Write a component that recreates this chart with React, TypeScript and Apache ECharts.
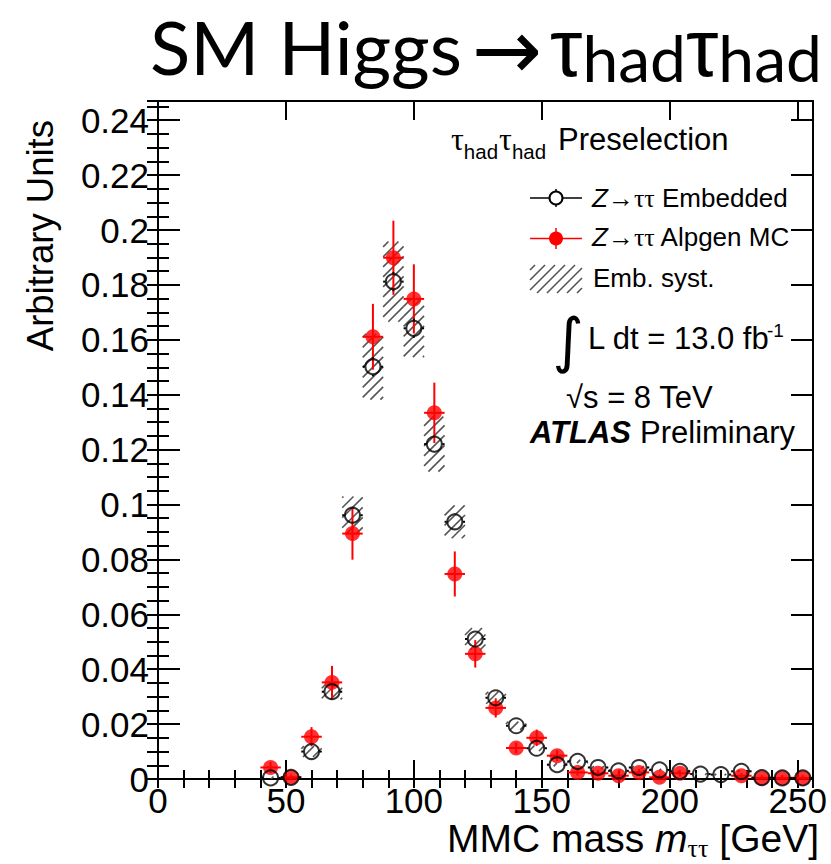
import React, { useEffect, useRef } from "react";
import * as echarts from "echarts";

// ---- data ----
const binCenters = [44, 52, 60, 68, 76, 84, 92, 100, 108, 116, 124, 132, 140, 148, 156, 164, 172, 180, 188, 196, 204, 212, 220, 228, 236, 244, 252];
const embeddedValues = [0.0004, 0.0006, 0.0100, 0.0318, 0.0961, 0.1502, 0.1812, 0.1642, 0.1220, 0.0937, 0.0510, 0.0296, 0.0194, 0.0112, 0.0052, 0.0064, 0.0042, 0.0030, 0.0042, 0.0033, 0.0028, 0.0018, 0.0016, 0.0028, 0.0005, 0.0004, 0.0004];
const embeddedStatErr = [0.0005, 0.0005, 0.0015, 0.002, 0.003, 0.0035, 0.0035, 0.0035, 0.003, 0.003, 0.002, 0.0018, 0.0015, 0.0012, 0.0008, 0.0008, 0.0007, 0.0006, 0.0007, 0.0006, 0.0006, 0.0005, 0.0005, 0.0006, 0.0004, 0.0004, 0.0004];
const embeddedSystErr = [0.0005, 0.0005, 0.002, 0.0028, 0.0068, 0.012, 0.0146, 0.0105, 0.010, 0.006, 0.004, 0.0022, 0.0015, 0.001, 0.0006, 0.0006, 0.0005, 0.0004, 0.0005, 0.0004, 0.0004, 0.0003, 0.0003, 0.0004, 0.0002, 0.0002, 0.0002];
const alpgenValues: (number | null)[] = [0.0042, 0.0006, 0.0154, 0.0352, 0.0894, 0.1611, 0.1899, 0.1749, 0.1334, 0.0747, 0.0456, 0.0259, 0.0113, 0.0150, 0.0085, 0.0024, 0.0021, 0.0012, 0.0024, 0.0006, 0.0021, null, null, 0.0012, 0.0004, 0.0004, 0.0004];
const alpgenErr: (number | null)[] = [0.002, 0.001, 0.0035, 0.006, 0.0095, 0.012, 0.0135, 0.0126, 0.011, 0.0082, 0.005, 0.0035, 0.002, 0.003, 0.002, 0.0012, 0.0012, 0.001, 0.0012, 0.001, 0.0012, null, null, 0.001, 0.001, 0.001, 0.001];
const binHalfWidth = 4;
const xRange = [0, 256];
const yRange = [0, 0.247];
const xMajorStep = 50;
const xMinorStep = 10;
const yMajorStep = 0.02;
const yMinorStep = 0.005;

const SANS = "Liberation Sans";
const SERIF = "Liberation Serif";
const DEJAVU = "DejaVu Sans";
const LATO = "Lato";
const CENTRAL: Record<string, number> = { [SANS]: 0.3465, [SERIF]: 0.3375, [DEJAVU]: 0.346, [LATO]: 0.387 };

let measureCtx: CanvasRenderingContext2D | null = null;
function textWidth(text: string, size: number, family: string, style = "normal", weight = "normal") {
  if (!measureCtx) measureCtx = document.createElement("canvas").getContext("2d");
  measureCtx!.font = `${style} ${weight} ${size}px "${family}"`;
  return measureCtx!.measureText(text).width;
}

type Piece = { text: string; size: number; family: string; style?: string; weight?: string; dy?: number; gap?: number };

function textEl(x: number, baseline: number, p: Piece, align: "left" | "center" | "right" = "left") {
  return {
    type: "text",
    x,
    y: baseline + (p.dy || 0) - (CENTRAL[p.family] ?? 0.35) * p.size,
    silent: true,
    style: {
      text: p.text,
      fontSize: p.size,
      fontFamily: p.family,
      fontStyle: p.style || "normal",
      fontWeight: p.weight || "normal",
      fill: "#000",
      align,
      verticalAlign: "middle",
    },
  };
}

function run(x: number, baseline: number, pieces: Piece[], anchor: "left" | "right" = "left") {
  const widths = pieces.map((p) => textWidth(p.text, p.size, p.family, p.style, p.weight));
  const total = widths.reduce((a, b, i) => a + b + (pieces[i].gap || 0), 0);
  let cx = anchor === "left" ? x : x - total;
  return pieces.map((p, i) => {
    cx += p.gap || 0;
    const el = textEl(cx, baseline, p);
    cx += widths[i];
    return el;
  });
}

function hatchLines(x0: number, y0: number, x1: number, y1: number, step = 10, stroke = "#555", lw = 1.6) {
  const out: any[] = [];
  const cmin = Math.ceil((x0 + y0) / step) * step;
  for (let c = cmin; c <= x1 + y1; c += step) {
    const xa = Math.max(x0, c - y1);
    const xb = Math.min(x1, c - y0);
    if (xb - xa > 0.5) {
      out.push({ type: "line", shape: { x1: xa, y1: c - xa, x2: xb, y2: c - xb }, style: { stroke, lineWidth: lw } });
    }
  }
  return out;
}

function errorBarRenderer(color: string, width: number, gap: number) {
  return (params: any, api: any) => {
    const x = api.value(0);
    const y = api.value(1);
    const e = api.value(2);
    const c = api.coord([x, y]);
    const yt = api.coord([x, y + e])[1];
    const yb = api.coord([x, y - e])[1];
    const xl = api.coord([x - binHalfWidth, y])[0];
    const xr = api.coord([x + binHalfWidth, y])[0];
    const segs: number[][] = [];
    if (c[1] - gap > yt) segs.push([c[0], yt, c[0], c[1] - gap]);
    if (yb > c[1] + gap) segs.push([c[0], c[1] + gap, c[0], yb]);
    if (c[0] - gap > xl) segs.push([xl, c[1], c[0] - gap, c[1]]);
    if (xr > c[0] + gap) segs.push([c[0] + gap, c[1], xr, c[1]]);
    return {
      type: "group",
      children: segs.map((s) => ({
        type: "line",
        shape: { x1: s[0], y1: s[1], x2: s[2], y2: s[3] },
        style: { stroke: color, lineWidth: width },
      })),
    };
  };
}

export default function App() {
  const ref = useRef<HTMLDivElement>(null);

  useEffect(() => {
    const chart = echarts.init(ref.current!, null, { renderer: "svg" });

    const hatchData = binCenters.map((x, i) => [x, embeddedValues[i], embeddedSystErr[i]]);
    const embErrData = binCenters.map((x, i) => [x, embeddedValues[i], embeddedStatErr[i]]);
    const embPoints = binCenters.map((x, i) => [x, embeddedValues[i]]);
    const mcIdx = binCenters.map((_, i) => i).filter((i) => alpgenValues[i] != null);
    const mcErrData = mcIdx.map((i) => [binCenters[i], alpgenValues[i], alpgenErr[i]]);
    const mcPoints = mcIdx.map((i) => [binCenters[i], alpgenValues[i]]);

    const axisLineStyle = { color: "#000", width: 2 };
    const tickLineStyle = { color: "#000", width: 2 };
    const hidden = { show: false };

    const xAxisBase = { type: "value", min: xRange[0], max: xRange[1], splitLine: hidden, axisLabel: hidden, axisLine: hidden, axisTick: hidden };
    const yAxisBase = { type: "value", min: yRange[0], max: yRange[1], splitLine: hidden, axisLabel: hidden, axisLine: hidden, axisTick: hidden };

    // ---- title ----
    const titleSize = 80 * 312 / textWidth("SM Higgs", 80, LATO);
    const tauSize = 82;
    const tauW = textWidth("τ", tauSize, SANS);
    const hadTarget = (822 - 550 - 2 * tauW) / 2;
    const hadSize = 56 * hadTarget / textWidth("had", 56, LATO);

    const graphics: any[] = [
      textEl(150, 75, { text: "SM Higgs", size: titleSize, family: LATO }),
      textEl(507, 50 + CENTRAL[DEJAVU] * 84, { text: "→", size: 84, family: DEJAVU }, "center"),
      ...run(550, 76, [
        { text: "τ", size: tauSize, family: SANS },
        { text: "had", size: hadSize, family: LATO, dy: 6 },
        { text: "τ", size: tauSize, family: SANS },
        { text: "had", size: hadSize, family: LATO, dy: 6 },
      ]),

      // axis titles
      {
        type: "text",
        x: 40,
        y: 120,
        rotation: Math.PI / 2,
        silent: true,
        style: { text: "Arbitrary Units", fontSize: 36.5, fontFamily: SANS, fill: "#000", align: "right", verticalAlign: "middle" },
      },
      ...run(819, 852, [
        { text: "MMC mass ", size: 39, family: SANS },
        { text: "m", size: 39, family: SANS, style: "italic" },
        { text: "ττ", size: 26, family: SERIF, dy: 5 },
        { text: " [GeV]", size: 39, family: SANS },
      ], "right"),

      // header
      ...run(451, 150, [
        { text: "τ", size: 32, family: SERIF },
        { text: "had", size: 20.5, family: SANS, dy: 9 },
        { text: "τ", size: 32, family: SERIF, gap: 1 },
        { text: "had", size: 20.5, family: SANS, dy: 9 },
      ]),
      textEl(558, 150, { text: "Preselection", size: 31, family: SANS }),

      // legend entries
      ...run(592, 207, [
        { text: "Z", size: 26, family: SANS, style: "italic" },
        { text: "→", size: 26, family: SANS },
        { text: "ττ", size: 26, family: SERIF },
        { text: " Embedded", size: 26, family: SANS },
      ]),
      ...run(592, 246, [
        { text: "Z", size: 26, family: SANS, style: "italic" },
        { text: "→", size: 26, family: SANS },
        { text: "ττ", size: 26, family: SERIF },
        { text: " Alpgen MC", size: 26, family: SANS },
      ]),
      textEl(593, 287, { text: "Emb. syst.", size: 26, family: SANS }),

      // markers in legend
      { type: "line", shape: { x1: 530, y1: 198, x2: 549.5, y2: 198 }, style: { stroke: "#000", lineWidth: 1.5 } },
      { type: "line", shape: { x1: 562.5, y1: 198, x2: 582, y2: 198 }, style: { stroke: "#000", lineWidth: 1.5 } },
      { type: "line", shape: { x1: 556, y1: 189, x2: 556, y2: 191.5 }, style: { stroke: "#000", lineWidth: 1.5 } },
      { type: "line", shape: { x1: 556, y1: 204.5, x2: 556, y2: 207 }, style: { stroke: "#000", lineWidth: 1.5 } },
      { type: "circle", shape: { cx: 556, cy: 198, r: 6.5 }, style: { fill: "none", stroke: "#000", lineWidth: 2 } },
      { type: "line", shape: { x1: 530, y1: 238.5, x2: 582, y2: 238.5 }, style: { stroke: "#ff0000", lineWidth: 1.5 } },
      { type: "line", shape: { x1: 556, y1: 228, x2: 556, y2: 249 }, style: { stroke: "#ff0000", lineWidth: 1.5 } },
      { type: "circle", shape: { cx: 556, cy: 238.5, r: 7 }, style: { fill: "#ff0000" } },
      ...hatchLines(530, 265, 582, 293),

      // luminosity etc.
      textEl(568, 340 + CENTRAL[DEJAVU] * 60, { text: "∫", size: 60, family: DEJAVU }, "center"),
      textEl(588, 349, { text: "L dt = 13.0 fb", size: 31, family: SANS }),
      textEl(767, 337, { text: "-1", size: 19, family: SANS }),
      textEl(566, 408, { text: "√s = 8 TeV", size: 31, family: SANS }),
      textEl(530, 443, { text: "ATLAS", size: 31, family: SANS, style: "italic", weight: "bold" }),
      textEl(640, 443, { text: "Preliminary", size: 31, family: SANS }),
    ];

    const option: any = {
      animation: false,
      backgroundColor: "#fff",
      grid: { left: 158, right: 18, top: 101, bottom: 85, containLabel: false },
      xAxis: [
        {
          ...xAxisBase,
          position: "bottom",
          interval: xMajorStep,
          axisLine: { show: true, onZero: false, lineStyle: axisLineStyle },
          axisTick: { show: true, inside: true, length: 19, lineStyle: tickLineStyle },
          axisLabel: { show: true, fontSize: 35, fontFamily: SANS, color: "#000", margin: 4, showMaxLabel: false },
        },
        { ...xAxisBase, position: "bottom", interval: xMinorStep, axisTick: { show: true, inside: true, length: 9, lineStyle: tickLineStyle } },
        {
          ...xAxisBase,
          position: "top",
          interval: xMajorStep,
          axisLine: { show: true, onZero: false, lineStyle: axisLineStyle },
          axisTick: { show: true, inside: true, length: 19, lineStyle: tickLineStyle },
        },
        { ...xAxisBase, position: "top", interval: xMinorStep, axisTick: { show: true, inside: true, length: 9, lineStyle: tickLineStyle } },
      ],
      yAxis: [
        {
          ...yAxisBase,
          position: "left",
          interval: yMajorStep,
          axisLine: { show: true, onZero: false, lineStyle: axisLineStyle },
          axisTick: { show: true, inside: true, length: 22, lineStyle: tickLineStyle },
          axisLabel: { show: true, fontSize: 35, fontFamily: SANS, color: "#000", margin: 9, showMaxLabel: false },
        },
        { ...yAxisBase, position: "left", interval: yMinorStep, axisTick: { show: true, inside: true, length: 11, lineStyle: tickLineStyle } },
        {
          ...yAxisBase,
          position: "right",
          interval: yMajorStep,
          axisLine: { show: true, onZero: false, lineStyle: axisLineStyle },
          axisTick: { show: true, inside: true, length: 22, lineStyle: tickLineStyle },
        },
        { ...yAxisBase, position: "right", interval: yMinorStep, axisTick: { show: true, inside: true, length: 11, lineStyle: tickLineStyle } },
      ],
      series: [
        {
          name: "Emb. syst.",
          type: "custom",
          z: 1,
          clip: true,
          xAxisIndex: 0,
          yAxisIndex: 0,
          encode: { x: 0, y: 1 },
          data: hatchData,
          renderItem: (params: any, api: any) => {
            const x = api.value(0);
            const y = api.value(1);
            const s = api.value(2);
            const p0 = api.coord([x - binHalfWidth, y + s]);
            const p1 = api.coord([x + binHalfWidth, y - s]);
            return { type: "group", children: hatchLines(p0[0], p0[1], p1[0], p1[1]) };
          },
        },
        {
          name: "Z→ττ Alpgen MC errors",
          type: "custom",
          z: 2,
          clip: true,
          xAxisIndex: 0,
          yAxisIndex: 0,
          encode: { x: 0, y: 1 },
          data: mcErrData,
          renderItem: errorBarRenderer("#ff0000", 2, 0),
        },
        {
          name: "Z→ττ Alpgen MC",
          type: "scatter",
          z: 3,
          xAxisIndex: 0,
          yAxisIndex: 0,
          symbol: "circle",
          symbolSize: 15,
          itemStyle: { color: "#ff0000" },
          data: mcPoints,
        },
        {
          name: "Z→ττ Embedded errors",
          type: "custom",
          z: 4,
          clip: true,
          xAxisIndex: 0,
          yAxisIndex: 0,
          encode: { x: 0, y: 1 },
          data: embErrData,
          renderItem: errorBarRenderer("#000", 2, 8),
        },
        {
          name: "Z→ττ Embedded",
          type: "scatter",
          z: 5,
          xAxisIndex: 0,
          yAxisIndex: 0,
          symbol: "circle",
          symbolSize: 15,
          itemStyle: { color: "rgba(0,0,0,0)", borderColor: "#000", borderWidth: 2 },
          data: embPoints,
        },
      ],
      graphic: graphics,
    };

    chart.setOption(option);
    return () => chart.dispose();
  }, []);

  return (
    <div
      ref={ref}
      style={{ position: "fixed", left: 0, top: 0, width: 831, height: 864, background: "#fff" }}
    />
  );
}
